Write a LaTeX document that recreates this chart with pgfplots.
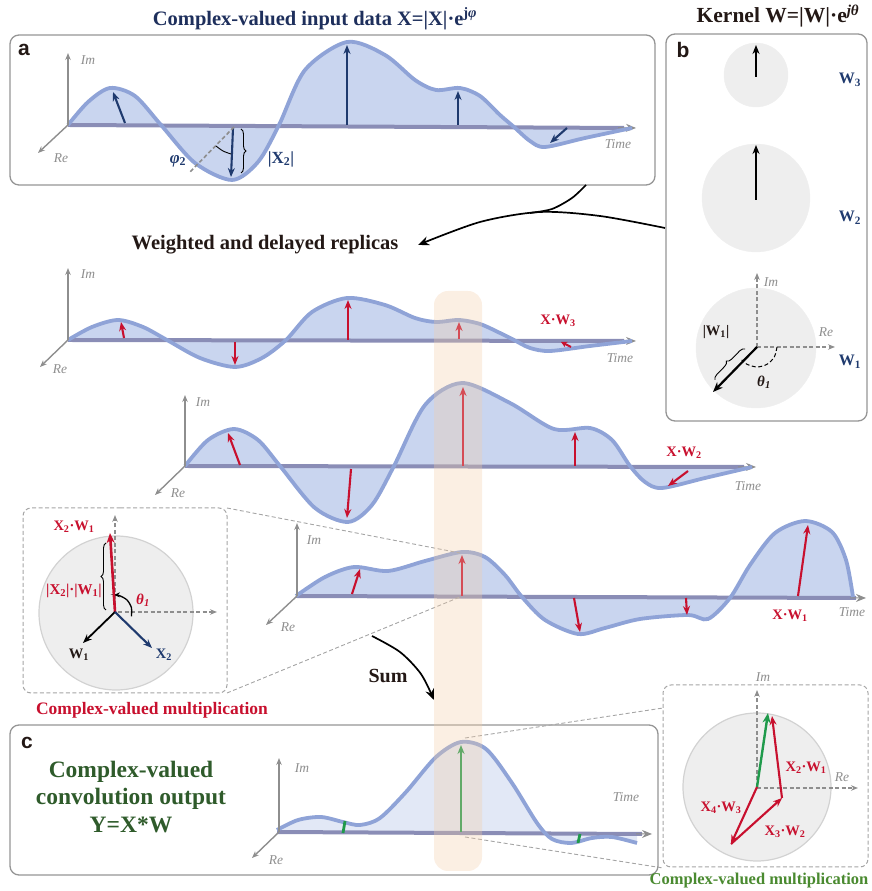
\documentclass[border=0pt]{standalone}
\usepackage{fontspec}
\setmainfont{Liberation Serif}
\newfontfamily\sansf{Liberation Sans}
\usepackage{pgfplots}
\pgfplotsset{compat=1.18}
\usepgfplotslibrary{fillbetween}
\usetikzlibrary{arrows.meta,decorations.pathreplacing}
\definecolor{navy}{HTML}{1F3A6E}
\definecolor{titlenavy}{HTML}{1E2F5C}
\definecolor{curve}{HTML}{8FA3D7}
\definecolor{fillc}{HTML}{C9D5EF}
\definecolor{fillc2}{HTML}{E2E8F6}
\definecolor{base}{HTML}{8A8DB6}
\definecolor{axg}{HTML}{8E8E8E}
\definecolor{boxg}{HTML}{959595}
\definecolor{redA}{HTML}{C8102E}
\definecolor{greenT}{HTML}{2F5B2B}
\definecolor{greenA}{HTML}{1F9A4B}
\definecolor{greenM}{HTML}{4A8A30}
\definecolor{band}{HTML}{F2CDA8}
\definecolor{circ}{HTML}{EEEEEE}
\definecolor{circb}{HTML}{D2D2D2}
\definecolor{darkT}{HTML}{231815}
\tikzset{
 axl/.style={draw=axg, line width=1.4pt, -{Stealth[length=7pt,width=5.5pt]}},
 dax/.style={draw=axg, line width=1.2pt, dash pattern=on 4pt off 2.5pt, -{Stealth[length=7pt,width=5.5pt]}},
 crv/.style={draw=curve, line width=3.8pt, smooth},
 bl/.style={draw=base, line width=4pt},
 tipa/.style={draw=axg, line width=1pt, -{Stealth[length=10pt,width=8pt]}},
 navarr/.style={draw=navy, line width=2.1pt, -{Stealth[length=9pt,width=7pt]}},
 redarr/.style={draw=redA, line width=2.1pt, -{Stealth[length=9pt,width=7pt]}},
 grnarr/.style={draw=greenA, line width=2.3pt, -{Stealth[length=9pt,width=7pt]}},
 blkarr/.style={draw=black, line width=1.8pt, -{Stealth[length=9pt,width=7pt]}},
 glab/.style={text=axg, font=\fontsize{13.5}{15}\selectfont\itshape},
 rlab/.style={text=redA, font=\fontsize{14.5}{16}\selectfont\bfseries},
 boxs/.style={draw=boxg, line width=1.3pt, rounded corners=9pt},
 dbox/.style={draw=axg!80, line width=1pt, dash pattern=on 4pt off 2.5pt, rounded corners=8pt},
 dline/.style={draw=axg!80, line width=0.9pt, dash pattern=on 4pt off 2.5pt},
}
\begin{document}
\begin{tikzpicture}
\begin{axis}[name=main, width=871pt, height=891pt, scale only axis,
  xmin=0, xmax=871, ymin=0, ymax=891, y dir=reverse, hide axis, clip=false,
  clip marker paths=true]

% ---------- boxes ----------
\addplot[boxs] coordinates {(330,35) (655,35) (655,185) (10,185) (10,35) (330,35)};
\addplot[boxs] coordinates {(765,34) (867,34) (867,421) (666,421) (666,34) (765,34)};
\addplot[boxs] coordinates {(330,725) (658,725) (658,875) (10,875) (10,725) (330,725)};
\addplot[dbox] coordinates {(120,508) (227,508) (227,693) (23,693) (23,508) (120,508)};
\addplot[dbox] coordinates {(760,685) (868,685) (868,867) (663,867) (663,685) (760,685)};

% ---------- titles ----------
\node[text=titlenavy, font=\fontsize{20.5}{24}\selectfont\bfseries] at (axis cs:315,19) {Complex-valued input data X=|X|·e\textsuperscript{j\textit{φ}}};
\node[text=darkT, font=\fontsize{21.5}{24}\selectfont\bfseries] at (axis cs:778,16) {Kernel W=|W|·e\textsuperscript{\textit{jθ}}};
\node[text=darkT, font=\fontsize{20.5}{24}\selectfont\bfseries] at (axis cs:265,245) {Weighted and delayed replicas};
\node[text=darkT, font=\fontsize{21}{24}\selectfont\sansf\bfseries] at (axis cs:24,50) {a};
\node[text=darkT, font=\fontsize{21}{24}\selectfont\sansf\bfseries] at (axis cs:683,50) {b};
\node[text=darkT, font=\fontsize{21}{24}\selectfont\sansf\bfseries] at (axis cs:27,743) {c};

% ---------- panel a ----------
\addplot[name path=A, draw=none, smooth] coordinates {(68,125) (88,102) (110,88) (135,96) (161,125) (195,163) (232,180) (258,162) (279,125) (305,70) (347,42) (385,55) (415,80) (436,90) (460,88) (480,96) (500,115) (514,127) (530,141) (545,147) (585,138) (632,128)};
\addplot[name path=Ab, draw=none] coordinates {(68,125) (632,128)};
\addplot[fillc] fill between[of=A and Ab];
\addplot[bl] coordinates {(68,125) (624,128)};
\addplot[tipa] coordinates {(618,127.7) (636,128)};
\addplot[crv] coordinates {(68,125) (88,102) (110,88) (135,96) (161,125) (195,163) (232,180) (258,162) (279,125) (305,70) (347,42) (385,55) (415,80) (436,90) (460,88) (480,96) (500,115) (514,127) (530,141) (545,147) (585,138) (632,128)};
\addplot[axl] coordinates {(68,125) (68,53)};
\addplot[axl] coordinates {(68,125) (38,153)};
\node[glab] at (axis cs:88,60) {Im};
\node[glab] at (axis cs:61,158) {Re};
\node[glab] at (axis cs:618,144) {Time};
\addplot[navarr] coordinates {(125,123) (113,92)};
\addplot[navarr] coordinates {(233,128) (231,177)};
\addplot[navarr] coordinates {(347,125) (347,45)};
\addplot[navarr] coordinates {(458,125) (458,91)};
\addplot[navarr] coordinates {(567,128) (550,143)};
\addplot[draw=axg, line width=1.6pt, dash pattern=on 4pt off 2.5pt] coordinates {(234,127) (189,173)};
\addplot[draw=black, line width=0.9pt, smooth] coordinates {(216,146) (223,151) (231,154)};
\addplot[draw=black, line width=0.9pt, decorate, decoration={brace, amplitude=5pt}] coordinates {(241,129) (241,173)};
\node[text=navy, font=\fontsize{17}{19}\selectfont\bfseries] at (axis cs:178,161) {\textit{φ}\textsubscript{2}};
\node[text=navy, font=\fontsize{17}{19}\selectfont\bfseries] at (axis cs:281,159) {|X\textsubscript{2}|};

% ---------- panel b ----------
\addplot[circ, only marks, mark=*, mark size=32pt, mark options={draw=circ, fill=circ}] coordinates {(756,75)};
\addplot[circ, only marks, mark=*, mark size=54pt, mark options={draw=circ, fill=circ}] coordinates {(756,198)};
\addplot[circ, only marks, mark=*, mark size=60pt, mark options={draw=circ, fill=circ}] coordinates {(756,348)};
\addplot[blkarr] coordinates {(756,77) (756,45)};
\addplot[blkarr] coordinates {(756,200) (756,145)};
\addplot[dax] coordinates {(757,347) (757,273)};
\addplot[dax] coordinates {(757,347) (835,347)};
\addplot[draw=black, line width=1pt, dash pattern=on 4pt off 2.5pt, smooth] coordinates {(777,347) (774.3,357) (767,364.3) (757,367) (747,364.3) (741.7,359.9)};
\addplot[draw=black, line width=2.2pt, -{Stealth[length=10pt,width=8pt]}] coordinates {(757,347) (713,392)};
\addplot[draw=black, line width=0.9pt, decorate, decoration={brace, amplitude=5pt}] coordinates {(715,380) (745,349)};
\node[glab] at (axis cs:771,282) {Im};
\node[glab] at (axis cs:826,332) {Re};
\node[text=darkT, font=\fontsize{14.5}{16}\selectfont\bfseries] at (axis cs:716,332) {|W\textsubscript{1}|};
\node[text=darkT, font=\fontsize{15}{16}\selectfont\bfseries\itshape] at (axis cs:764,382) {θ\textsubscript{1}};
\node[text=navy, font=\fontsize{16}{18}\selectfont\bfseries] at (axis cs:850,80) {W\textsubscript{3}};
\node[text=navy, font=\fontsize{16}{18}\selectfont\bfseries] at (axis cs:850,218) {W\textsubscript{2}};
\node[text=navy, font=\fontsize{16}{18}\selectfont\bfseries] at (axis cs:850,362) {W\textsubscript{1}};

% merge arrow
\addplot[draw=black, line width=1.7pt, smooth, -{Stealth[length=11pt,width=9pt]}] coordinates {(665,228) (600,216) (540,212) (480,222) (418,245)};
\addplot[draw=black, line width=1.7pt, smooth] coordinates {(586,185) (572,198) (552,209) (530,213)};

% ---------- replica 1 (X W3) ----------
\addplot[name path=B, draw=none, smooth] coordinates {(68,340) (92,327) (118,320) (143,327) (167,340) (200,358) (235,367) (262,358) (286,340) (312,312) (347,298) (385,305) (415,318) (436,322) (459,320) (480,324) (500,333) (514,340) (530,348) (550,351) (590,346) (632,341)};
\addplot[name path=Bb, draw=none] coordinates {(68,340) (632,341)};
\addplot[fillc] fill between[of=B and Bb];
\addplot[bl] coordinates {(68,340) (624,341)};
\addplot[tipa] coordinates {(618,340.9) (636,341)};
\addplot[crv] coordinates {(68,340) (92,327) (118,320) (143,327) (167,340) (200,358) (235,367) (262,358) (286,340) (312,312) (347,298) (385,305) (415,318) (436,322) (459,320) (480,324) (500,333) (514,340) (530,348) (550,351) (590,346) (632,341)};
\addplot[axl] coordinates {(68,340) (68,268)};
\addplot[axl] coordinates {(68,340) (40,367)};
\node[glab] at (axis cs:88,274) {Im};
\node[glab] at (axis cs:60,369) {Re};
\node[glab] at (axis cs:620,358) {Time};
\addplot[redarr] coordinates {(124,338) (121,322)};
\addplot[redarr] coordinates {(235,342) (235,365)};
\addplot[redarr] coordinates {(348,340) (348,300)};
\addplot[redarr] coordinates {(459,339) (459,322)};
\addplot[draw=redA, line width=2pt, -{Stealth[length=6pt,width=6pt]}] coordinates {(571,347) (561,342)};
\node[rlab] at (axis cs:558,321) {X·W\textsubscript{3}};

% ---------- replica 2 (X W2) ----------
\addplot[name path=C, draw=none, smooth] coordinates {(185,466) (208,440) (234,429) (258,440) (280,466) (315,508) (348,522) (372,505) (394,466) (425,405) (462,383) (510,403) (554,429) (590,428) (612,440) (630,466) (645,482) (662,488) (705,478) (752,467)};
\addplot[name path=Cb, draw=none] coordinates {(185,466) (752,467)};
\addplot[fillc] fill between[of=C and Cb];
\addplot[bl] coordinates {(185,466) (744,467)};
\addplot[tipa] coordinates {(738,466.9) (756,467)};
\addplot[crv] coordinates {(185,466) (208,440) (234,429) (258,440) (280,466) (315,508) (348,522) (372,505) (394,466) (425,405) (462,383) (510,403) (554,429) (590,428) (612,440) (630,466) (645,482) (662,488) (705,478) (752,467)};
\addplot[axl] coordinates {(185,466) (185,395)};
\addplot[axl] coordinates {(185,466) (155,495)};
\node[glab] at (axis cs:203,402) {Im};
\node[glab] at (axis cs:178,493) {Re};
\node[glab] at (axis cs:748,486) {Time};
\addplot[redarr] coordinates {(240,465) (228,433)};
\addplot[redarr] coordinates {(351,469) (347,518)};
\addplot[redarr] coordinates {(463,466) (463,387)};
\addplot[redarr] coordinates {(575,466) (575,432)};
\addplot[redarr] coordinates {(688,471) (668,486)};
\node[rlab] at (axis cs:684,453) {X·W\textsubscript{2}};

% ---------- replica 3 (X W1) ----------
\addplot[name path=D, draw=none, smooth] coordinates {(296,596) (325,577) (354,567) (388,571) (425,561) (462,552) (485,557) (505,575) (522,597) (545,620) (578,634) (605,628) (640,619) (688,615) (708,619) (730,598) (750,565) (775,533) (805,521) (832,532) (846,560) (853,597)};
\addplot[name path=Db, draw=none] coordinates {(296,596) (853,598)};
\addplot[fillc] fill between[of=D and Db];
\addplot[bl] coordinates {(296,596) (856,598)};
\addplot[tipa] coordinates {(850,597.9) (866,598)};
\addplot[crv] coordinates {(296,596) (325,577) (354,567) (388,571) (425,561) (462,552) (485,557) (505,575) (522,597) (545,620) (578,634) (605,628) (640,619) (688,615) (708,619) (730,598) (750,565) (775,533) (805,521) (832,532) (846,560) (853,597)};
\addplot[axl] coordinates {(297,596) (297,523)};
\addplot[axl] coordinates {(297,596) (266,625)};
\node[glab] at (axis cs:314,540) {Im};
\node[glab] at (axis cs:288,627) {Re};
\node[glab] at (axis cs:852,612) {Time};
\addplot[redarr] coordinates {(352,594) (360,569)};
\addplot[redarr] coordinates {(462,596) (462,555)};
\addplot[redarr] coordinates {(574,598) (580,632)};
\addplot[redarr] coordinates {(686,598) (687,615)};
\addplot[redarr] coordinates {(798,596) (808,525)};
\node[rlab] at (axis cs:790,616) {X·W\textsubscript{1}};

% ---------- left inset ----------
\addplot[dline] coordinates {(227,508) (460,553)};
\addplot[dline] coordinates {(227,693) (460,597)};
\addplot[circ, only marks, mark=*, mark size=77pt, mark options={fill=circ, draw=circb, line width=1.2pt}] coordinates {(116,613)};
\addplot[dax] coordinates {(115,612) (115,515)};
\addplot[dax] coordinates {(118,612) (217,612)};
\addplot[draw=black, line width=0.9pt, decorate, decoration={brace, amplitude=5pt}] coordinates {(106,610) (106,543)};
\addplot[draw=black, line width=1.3pt, smooth, -{Stealth[length=6pt,width=5pt]}] coordinates {(131.4,616.4) (131.4,607.6) (127.0,600.0) (119.4,595.6) (114,595)};
\addplot[draw=redA, line width=2.6pt, -{Stealth[length=10pt,width=8pt]}] coordinates {(115,612) (110,533)};
\addplot[blkarr] coordinates {(115,612) (83,643)};
\addplot[navarr] coordinates {(115,612) (152,648)};
\node[rlab] at (axis cs:74,527) {X\textsubscript{2}·W\textsubscript{1}};
\node[text=redA, font=\fontsize{15}{16}\selectfont\bfseries] at (axis cs:74,591) {|X\textsubscript{2}|·|W\textsubscript{1}|};
\node[text=redA, font=\fontsize{15}{16}\selectfont\bfseries\itshape] at (axis cs:143,600) {θ\textsubscript{1}};
\node[text=darkT, font=\fontsize{14.5}{16}\selectfont\bfseries] at (axis cs:79,655) {W\textsubscript{1}};
\node[text=navy, font=\fontsize{14.5}{16}\selectfont\bfseries] at (axis cs:164,655) {X\textsubscript{2}};
\node[text=redA, font=\fontsize{17.5}{20}\selectfont\bfseries] at (axis cs:152,710) {Complex-valued multiplication};

% Sum
\node[text=darkT, font=\fontsize{20}{22}\selectfont\bfseries] at (axis cs:388,676) {Sum};
\addplot[draw=black, line width=1.7pt, smooth, -{Stealth[length=11pt,width=9pt]}] coordinates {(372,636) (400,652) (421,674) (434,700)};

% ---------- panel c ----------
\node[text=greenT, font=\fontsize{23.5}{27.5}\selectfont\bfseries, align=center] at (axis cs:131,797) {Complex-valued\\convolution output\\Y=X*W};
\addplot[name path=E, draw=none, smooth] coordinates {(277,830) (298,820) (321,817) (343,822) (360,825) (380,818) (406,792) (436,757) (461,742) (486,749) (512,783) (537,823) (552,839) (571,843) (592,838) (612,837) (637,843)};
\addplot[name path=Eb, draw=none] coordinates {(277,832) (637,834)};
\addplot[fillc2] fill between[of=E and Eb];
\addplot[bl] coordinates {(277,832) (642,834)};
\addplot[tipa] coordinates {(636,833.9) (652,834)};
\addplot[crv] coordinates {(277,830) (298,820) (321,817) (343,822) (360,825) (380,818) (406,792) (436,757) (461,742) (486,749) (512,783) (537,823) (552,839) (571,843) (592,838) (612,837) (637,843)};
\addplot[axl] coordinates {(279,832) (279,758)};
\addplot[axl] coordinates {(279,832) (252,858)};
\node[glab] at (axis cs:302,768) {Im};
\node[glab] at (axis cs:276,860) {Re};
\node[glab] at (axis cs:626,797) {Time};
\addplot[draw=greenA, line width=2.8pt] coordinates {(343,833) (345,821)};
\addplot[grnarr] coordinates {(461,832) (461,745)};
\addplot[draw=greenA, line width=2.8pt] coordinates {(578,843) (580,834)};
\addplot[dline] coordinates {(465,738) (663,708)};
\addplot[dline] coordinates {(465,837) (663,868)};

% ---------- right inset ----------
\addplot[circ, only marks, mark=*, mark size=74pt, mark options={fill=circ, draw=circb, line width=1.2pt}] coordinates {(757,787)};
\addplot[dax] coordinates {(757,787) (757,690)};
\addplot[dax] coordinates {(757,788) (858,788)};
\addplot[draw=greenA, line width=2.4pt, -{Stealth[length=10pt,width=8pt]}] coordinates {(757,787) (768,713)};
\addplot[redarr] coordinates {(757,787) (731,844)};
\addplot[redarr] coordinates {(731,844) (782,798)};
\addplot[redarr] coordinates {(782,798) (772,716)};
\node[glab] at (axis cs:763,677) {Im};
\node[glab] at (axis cs:842,777) {Re};
\node[rlab] at (axis cs:806,768) {X\textsubscript{2}·W\textsubscript{1}};
\node[rlab] at (axis cs:721,808) {X\textsubscript{4}·W\textsubscript{3}};
\node[rlab] at (axis cs:785,832) {X\textsubscript{3}·W\textsubscript{2}};
\node[text=greenM, font=\fontsize{16.5}{20}\selectfont\bfseries] at (axis cs:759,881) {Complex-valued multiplication};

% ---------- orange band ----------
\addplot[fill=band, opacity=0.32, draw=none, rounded corners=14pt] coordinates {(458,291) (482,291) (482,871) (434,871) (434,291) (458,291)};

\end{axis}
\pgfresetboundingbox
\path[use as bounding box] (main.south west) rectangle (main.north east);
\end{tikzpicture}
\end{document}
